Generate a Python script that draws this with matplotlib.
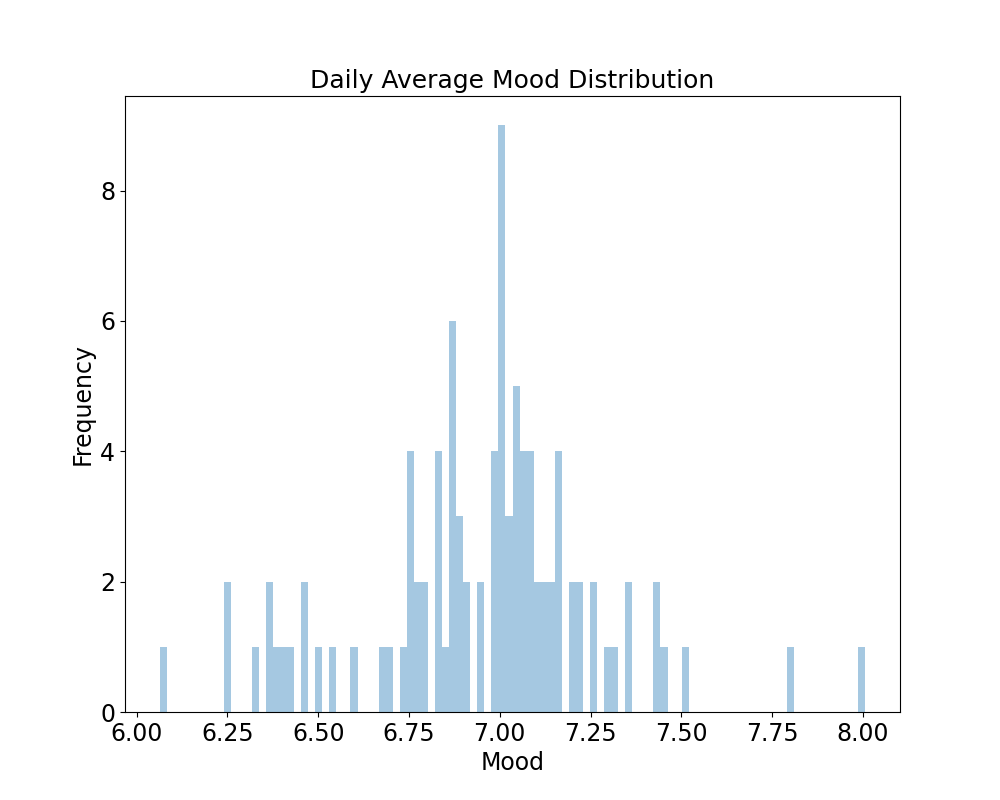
import numpy as np
import matplotlib
matplotlib.use("Agg")
import matplotlib.pyplot as plt

# histogram: 100 bins between min and max mood
mood_min = 6.065
mood_max = 8.005
n_bins = 100
# nonzero bins: bin index -> count
bin_index = [0, 9, 13, 15, 16, 17, 18, 20, 22, 24, 27,
             31, 32, 34, 35, 36, 37, 39, 40, 41, 42, 43, 45,
             47, 48, 49, 50, 51, 52, 53, 54, 55, 56, 58, 59,
             61, 63, 64, 66, 70, 71, 74, 89, 99]
bin_count = [1, 2, 1, 2, 1, 1, 1, 2, 1, 1, 1,
             1, 1, 1, 4, 2, 2, 4, 1, 6, 3, 2, 2,
             4, 9, 3, 5, 4, 4, 2, 2, 2, 4, 2, 2,
             2, 1, 1, 2, 2, 1, 1, 1, 1]

counts = np.zeros(n_bins)
counts[bin_index] = bin_count
edges = np.linspace(mood_min, mood_max, n_bins + 1)

plt.rcParams['font.size'] = 17
fig, ax = plt.subplots(figsize=(10, 8), dpi=100)
ax.hist(edges[:-1], bins=edges, weights=counts, color='#1f77b4', alpha=0.4)
ax.set_title("Daily Average Mood Distribution", fontsize=18)
ax.set_xlabel("Mood")
ax.set_ylabel("Frequency")
fig.savefig("out.png")
